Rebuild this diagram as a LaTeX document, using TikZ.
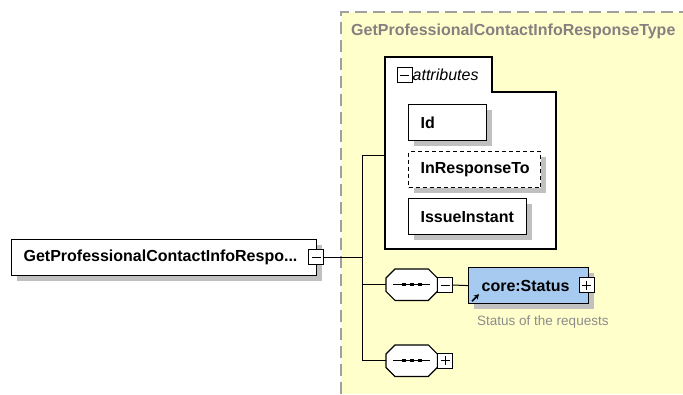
\documentclass[tikz,border=0pt]{standalone}
\usepackage{fontspec}
\setmainfont{Liberation Sans}
\usetikzlibrary{shadows,arrows.meta}
\definecolor{bgyellow}{HTML}{FFFFCC}
\definecolor{corblue}{HTML}{A6CAF0}
\definecolor{shadowgray}{HTML}{C0C0C0}
\definecolor{titlegray}{HTML}{858080}
\definecolor{dashgray}{HTML}{A0A0A0}
\definecolor{descgray}{HTML}{8C8C8C}
\begin{document}
\begin{tikzpicture}[x=1pt,y=-1pt,
  mainfont/.style={font=\bfseries\fontsize{16}{18}\selectfont},
  shadowed/.style={drop shadow={shadow xshift=5pt, shadow yshift=-5pt, fill=shadowgray, opacity=1}},
  elbox/.style={draw, line width=1.2pt, fill=white, rectangle, anchor=north west,
    minimum height=36pt, inner xsep=12pt, align=left, mainfont, shadowed},
  togglebox/.style={draw, line width=1pt, fill=white, rectangle, minimum size=15pt, inner sep=0pt},
  minusbox/.style={togglebox, path picture={\draw[line width=1pt]
    ([xshift=3pt]path picture bounding box.west) -- ([xshift=-3pt]path picture bounding box.east);}},
  plusbox/.style={togglebox, path picture={\draw[line width=1pt]
    ([xshift=3pt]path picture bounding box.west) -- ([xshift=-3pt]path picture bounding box.east)
    ([yshift=-3pt]path picture bounding box.north) -- ([yshift=3pt]path picture bounding box.south);}},
  seqbox/.style={rectangle, minimum width=51pt, minimum height=31pt, inner sep=0pt, anchor=north west},
  conn/.style={draw, line width=1pt}
]
\useasboundingbox (0,0) rectangle (683,394);
% type area
\fill[bgyellow] (341,12) rectangle (683,394);
\draw[dashgray, line width=1.5pt, dash pattern=on 12pt off 6pt] (341,394) -- (341,12) -- (683,12);
\node[anchor=west, text=titlegray, mainfont, inner sep=0pt] (title) at (351,31) {GetProfessionalContactInfoResponseType};

% connectors
\coordinate (tj) at (362,257);
\coordinate (ttop) at (362,155);
\coordinate (attrw) at (385,155);

% main element
\node[elbox, minimum width=305pt, text width=281pt] (main) at (11,239) {GetProfessionalContactInfoRespo...};
\node[minusbox] (mainm) at (316,257) {};

% attributes group
\draw[line width=1.2pt, fill=white] (385,57) -- (492,57) -- (492,92) -- (556,92) -- (556,249) -- (385,249) -- cycle;
\node[minusbox] (attrm) at (404.5,75) {};
\node[anchor=west, font=\itshape\fontsize{16}{18}\selectfont, inner sep=0pt] (attrlabel) at (412.5,75) {attributes};
\node[elbox, minimum width=78pt, text width=54pt] (id) at (408,104) {Id};
\node[elbox, dash pattern=on 4pt off 3pt, minimum width=132pt, text width=108pt] (inresp) at (408,151) {InResponseTo};
\node[elbox, minimum width=118pt, text width=94pt] (issue) at (408,198) {IssueInstant};

% sequences
\node[seqbox] (seq1) at (386,269) {};
\node[seqbox] (seq2) at (386,345) {};
\foreach \s in {seq1,seq2} {
  \begin{scope}[xshift=5pt, yshift=-5pt]
  \fill[shadowgray] ([xshift=9pt]\s.north west) -- ([xshift=-9pt]\s.north east) -- ([yshift=-9pt]\s.north east)
    -- ([yshift=9pt]\s.south east) -- ([xshift=-9pt]\s.south east) -- ([xshift=9pt]\s.south west)
    -- ([yshift=9pt]\s.south west) -- ([yshift=-9pt]\s.north west) -- cycle;
  \end{scope}
  \draw[line width=1.2pt, fill=white] ([xshift=9pt]\s.north west) -- ([xshift=-9pt]\s.north east) -- ([yshift=-9pt]\s.north east)
    -- ([yshift=9pt]\s.south east) -- ([xshift=-9pt]\s.south east) -- ([xshift=9pt]\s.south west)
    -- ([yshift=9pt]\s.south west) -- ([yshift=-9pt]\s.north west) -- cycle;
  \draw[line width=1pt] ([xshift=-18.5pt]\s.center) -- ([xshift=18.5pt]\s.center);
  \foreach \dx in {-8,0,8}
    \fill ([xshift=\dx pt]\s.center) +(-2,-1.6) rectangle +(2,1.6);
}
\node[minusbox] (seq1m) at (445,285) {};
\node[plusbox] (seq2p) at (445,360.5) {};

% core:Status
\node[elbox, fill=corblue, minimum width=120pt, text width=94pt, inner xsep=13pt] (core) at (468,267) {core:Status};
\node[plusbox] (corep) at (586.5,285) {};
\draw[line width=1.6pt, -{Stealth[length=5pt,width=5.5pt]}] ([shift={(4,-3)}]core.south west) -- ++(7,-7);
\node[anchor=west, text=descgray, font=\fontsize{13.5}{15}\selectfont, inner sep=0pt] (desc) at (477,322) {Status of the requests};

% connector lines
\draw[conn] (mainm.east) -- (tj);
\draw[conn] (attrw) -- (ttop) -- (ttop |- seq2.west) -- (seq2.west);
\draw[conn] (ttop |- seq1.west) -- (seq1.west);
\draw[conn] (seq1m.east) -- (core.west);
\end{tikzpicture}
\end{document}
